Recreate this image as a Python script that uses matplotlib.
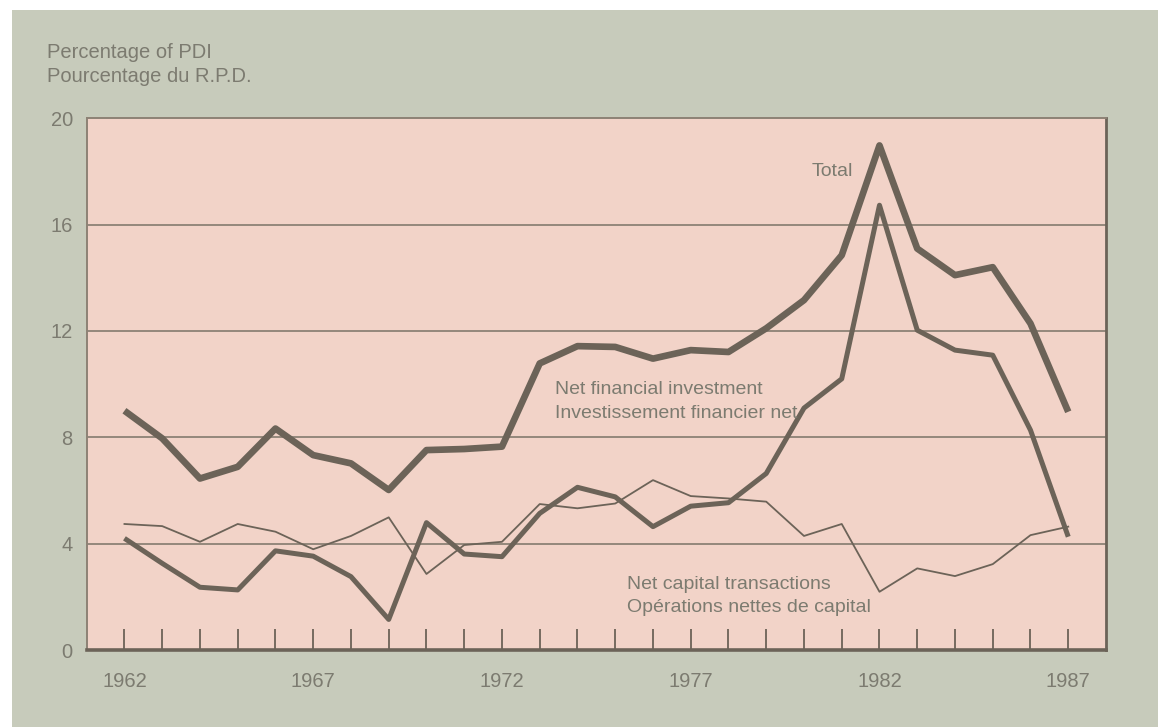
import matplotlib
matplotlib.use("Agg")
import matplotlib.pyplot as plt
from matplotlib.patches import Rectangle

years = list(range(1962, 1988))
total = [9.0, 7.96, 6.45, 6.89, 8.33, 7.33, 7.02, 6.02, 7.52, 7.56,
         7.65, 10.78, 11.43, 11.4, 10.96, 11.28, 11.21, 12.1, 13.16, 14.85,
         18.98, 15.1, 14.1, 14.4, 12.28, 8.96]
net_financial = [4.2, 3.26, 2.36, 2.26, 3.73, 3.53, 2.76, 1.15, 4.79, 3.61,
                 3.51, 5.14, 6.12, 5.76, 4.64, 5.41, 5.54, 6.64, 9.1, 10.2,
                 16.73, 12.03, 11.28, 11.09, 8.27, 4.26]
net_capital = [4.74, 4.66, 4.07, 4.74, 4.45, 3.79, 4.29, 4.99, 2.86, 3.95,
               4.07, 5.49, 5.33, 5.51, 6.39, 5.79, 5.7, 5.58, 4.29, 4.74,
               2.19, 3.07, 2.78, 3.23, 4.32, 4.64]
x_tick_labels = [1962, 1967, 1972, 1977, 1982, 1987]
y_ticks = [0, 4, 8, 12, 16, 20]

W, H = 1158, 727
fig = plt.figure(figsize=(W / 100, H / 100), dpi=100)
fig.patch.set_facecolor("white")
bg = "#c7cbbb"
pink = "#f2d3c8"
line_c = "#6c6358"
text_c = "#7c7b70"
grid_c = "#8d8275"

fig.patches.append(Rectangle((12 / W, 0), 1 - 12 / W, 1 - 10 / H,
                             transform=fig.transFigure, facecolor=bg,
                             edgecolor="none", zorder=-10))

left, right = 86.7 / W, 1106 / W
bottom, top = (H - 650) / H, (H - 118.3) / H
ax = fig.add_axes([left, bottom, right - left, top - bottom])
ax.set_facecolor(pink)
ax.set_xlim(1961, 1988)
ax.set_ylim(0, 20)

font = "Liberation Sans"
fs = 14
fs_axis = 14.5

for yv in y_ticks[1:-1]:
    ax.axhline(yv, color=grid_c, lw=1.3, zorder=1)

ax.plot(years, net_capital, color=line_c, lw=1.3, zorder=3, solid_joinstyle="round")
ax.plot(years, net_financial, color=line_c, lw=3.6, zorder=4, solid_joinstyle="round",
        solid_capstyle="butt")
ax.plot(years, total, color=line_c, lw=4.8, zorder=5, solid_joinstyle="round",
        solid_capstyle="butt")

for s in ["left", "top"]:
    ax.spines[s].set_color(grid_c)
    ax.spines[s].set_linewidth(1.4)
ax.spines["right"].set_color(line_c)
ax.spines["right"].set_linewidth(2.0)
ax.spines["bottom"].set_color(line_c)
ax.spines["bottom"].set_linewidth(2.6)

ax.set_xticks(years)
ax.set_xticklabels([str(y) if y in x_tick_labels else "" for y in years])
ax.tick_params(axis="x", direction="in", length=15, width=1.3, color=line_c,
               pad=16, labelsize=fs_axis, labelcolor=text_c)
ax.set_yticks(y_ticks)
ax.set_yticklabels([str(v) for v in y_ticks])
ax.tick_params(axis="y", length=0, pad=10, labelsize=fs_axis, labelcolor=text_c)
for lab in ax.get_xticklabels() + ax.get_yticklabels():
    lab.set_fontfamily(font)

fig.text(46.7 / W, 1 - 53 / H, "Percentage of PDI", fontsize=fs_axis, color=text_c,
         family=font, va="center", ha="left")
fig.text(46.7 / W, 1 - 76 / H, "Pourcentage du R.P.D.", fontsize=fs_axis, color=text_c,
         family=font, va="center", ha="left")

ax.text(1980.2, 18.0, "Total", fontsize=fs, color=text_c, family=font,
        va="center", ha="left", zorder=6)
ax.text(1973.4, 9.8, "Net financial investment", fontsize=fs, color=text_c,
        family=font, va="center", ha="left", zorder=6)
ax.text(1973.4, 8.9, "Investissement financier net", fontsize=fs, color=text_c,
        family=font, va="center", ha="left", zorder=6)
ax.text(1975.3, 2.48, "Net capital transactions", fontsize=fs, color=text_c,
        family=font, va="center", ha="left", zorder=6)
ax.text(1975.3, 1.58, "Opérations nettes de capital", fontsize=fs, color=text_c,
        family=font, va="center", ha="left", zorder=6)

fig.savefig("out.png", dpi=100, facecolor=fig.get_facecolor())
